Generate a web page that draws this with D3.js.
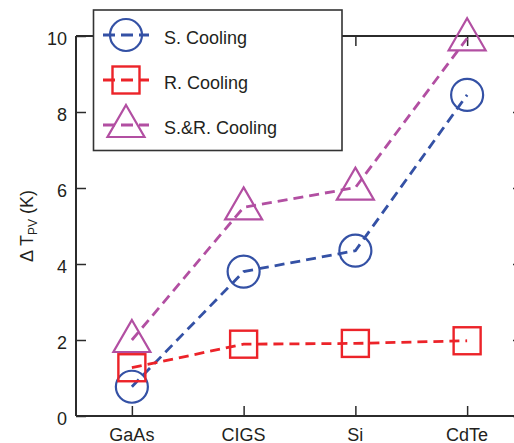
<!DOCTYPE html>
<html>
<head>
<meta charset="utf-8">
<script src="https://cdn.jsdelivr.net/npm/d3@7"></script>
<style>
  html, body { margin: 0; padding: 0; background: #fff; }
  svg { display: block; }
  text { font-family: "Liberation Sans", Arial, Helvetica, sans-serif; fill: #231f20; }
</style>
</head>
<body>
<svg id="chart" width="514" height="443"></svg>
<script>
const categories = ["GaAs", "CIGS", "Si", "CdTe"];
const seriesNames = ["S. Cooling", "R. Cooling", "S.&R. Cooling"];
const sCooling = [0.77, 3.80, 4.35, 8.45];
const rCooling = [1.27, 1.89, 1.91, 1.98];
const srCooling = [2.0, 5.49, 6.01, 9.94];
const yTicks = [0, 2, 4, 6, 8, 10];
const yLabel = "\u0394 T";
const yLabelSub = "PV";
const yLabelUnit = " (K)";

(function () {
const series = [
  { name: seriesNames[0], values: sCooling, color: "#3451a5", marker: "circle" },
  { name: seriesNames[1], values: rCooling, color: "#ec2329", marker: "square" },
  { name: seriesNames[2], values: srCooling, color: "#b24fa2", marker: "triangle" }
];

const svg = d3.select("#chart");
const pL = 76, pR = 523, pT = 36, pB = 416;

const x = d3.scalePoint().domain(categories).range([pL, pR]).padding(0.5);
const y = d3.scaleLinear().domain([0, 10]).range([pB, pT]);

const axisColor = "#2b2b2b";

// Frame
const frame = svg.append("g");
frame.append("line").attr("x1", pL).attr("x2", pR).attr("y1", pB).attr("y2", pB)
  .attr("stroke", axisColor).attr("stroke-width", 2);
frame.append("line").attr("x1", pL).attr("x2", pR).attr("y1", pT).attr("y2", pT)
  .attr("stroke", axisColor).attr("stroke-width", 2);
frame.append("line").attr("x1", pL).attr("x2", pL).attr("y1", pT).attr("y2", pB)
  .attr("stroke", axisColor).attr("stroke-width", 2);
frame.append("line").attr("x1", pR).attr("x2", pR).attr("y1", pT).attr("y2", pB)
  .attr("stroke", axisColor).attr("stroke-width", 2);

// Axes via d3 (inward ticks)
const styleAxis = g => { g.select(".domain").remove(); g.selectAll("line").attr("stroke", axisColor).attr("stroke-width", 1.5); };
svg.append("g").attr("transform", `translate(${pL},0)`)
  .call(d3.axisRight(y).tickValues(yTicks).tickSize(10).tickFormat("")).call(styleAxis);
svg.append("g").attr("transform", `translate(${pR},0)`)
  .call(d3.axisLeft(y).tickValues(yTicks).tickSize(10).tickFormat("")).call(styleAxis);
svg.append("g").attr("transform", `translate(0,${pB})`)
  .call(d3.axisTop(x).tickSize(10).tickFormat("")).call(styleAxis);
svg.append("g").attr("transform", `translate(0,${pT})`)
  .call(d3.axisBottom(x).tickSize(10).tickFormat("")).call(styleAxis);

// Tick labels
svg.append("g").selectAll("text").data(yTicks).join("text")
  .attr("x", 67).attr("y", d => y(d) + 9)
  .attr("text-anchor", "end").attr("font-size", 18).text(d => d);
svg.append("g").selectAll("text").data(categories).join("text")
  .attr("x", d => x(d)).attr("y", 441)
  .attr("text-anchor", "middle").attr("font-size", 18).text(d => d);

// Y label
const yl = svg.append("text").attr("transform", "translate(33,226) rotate(-90)")
  .attr("text-anchor", "middle").attr("font-size", 18);
yl.append("tspan").text(yLabel);
yl.append("tspan").attr("font-size", 12).attr("dy", 4).text(yLabelSub);
yl.append("tspan").attr("dy", -4).text(yLabelUnit);

function drawMarker(g, type, cx, cy, color) {
  if (type === "circle") {
    g.append("circle").attr("cx", cx).attr("cy", cy).attr("r", 16)
      .attr("fill", "none").attr("stroke", color).attr("stroke-width", 2.2);
  } else if (type === "square") {
    g.append("rect").attr("x", cx - 13.5).attr("y", cy - 13.5).attr("width", 27).attr("height", 27)
      .attr("fill", "none").attr("stroke", color).attr("stroke-width", 2.4);
  } else {
    g.append("path").attr("d", `M${cx},${cy - 20} L${cx + 18.5},${cy + 12} L${cx - 18.5},${cy + 12} Z`)
      .attr("fill", "none").attr("stroke", color).attr("stroke-width", 2.2);
  }
}

const line = d3.line().x((d, i) => x(categories[i])).y(d => y(d));

const plot = svg.append("g");
series.forEach(s => {
  plot.append("path").datum(s.values).attr("d", line)
    .attr("fill", "none").attr("stroke", s.color).attr("stroke-width", 2.8)
    .attr("stroke-dasharray", "10,6");
});
series.forEach(s => {
  const g = plot.append("g");
  s.values.forEach((v, i) => drawMarker(g, s.marker, x(categories[i]), y(v), s.color));
});

// Legend
const lg = svg.append("g");
lg.append("rect").attr("x", 93.5).attr("y", 10).attr("width", 248.5).attr("height", 140.5)
  .attr("fill", "#fff").attr("stroke", "#333").attr("stroke-width", 1.6);
const rowY = [35, 80, 125];
series.forEach((s, i) => {
  const cy = rowY[i];
  lg.append("line").attr("x1", 103).attr("x2", 149).attr("y1", cy).attr("y2", cy)
    .attr("stroke", s.color).attr("stroke-width", 2.8).attr("stroke-dasharray", "12,6,12,6,12");
  drawMarker(lg, s.marker, 126, cy, s.color);
  lg.append("text").attr("x", 164).attr("y", cy + 9).attr("font-size", 18).text(s.name);
});
})();
</script>
</body>
</html>
